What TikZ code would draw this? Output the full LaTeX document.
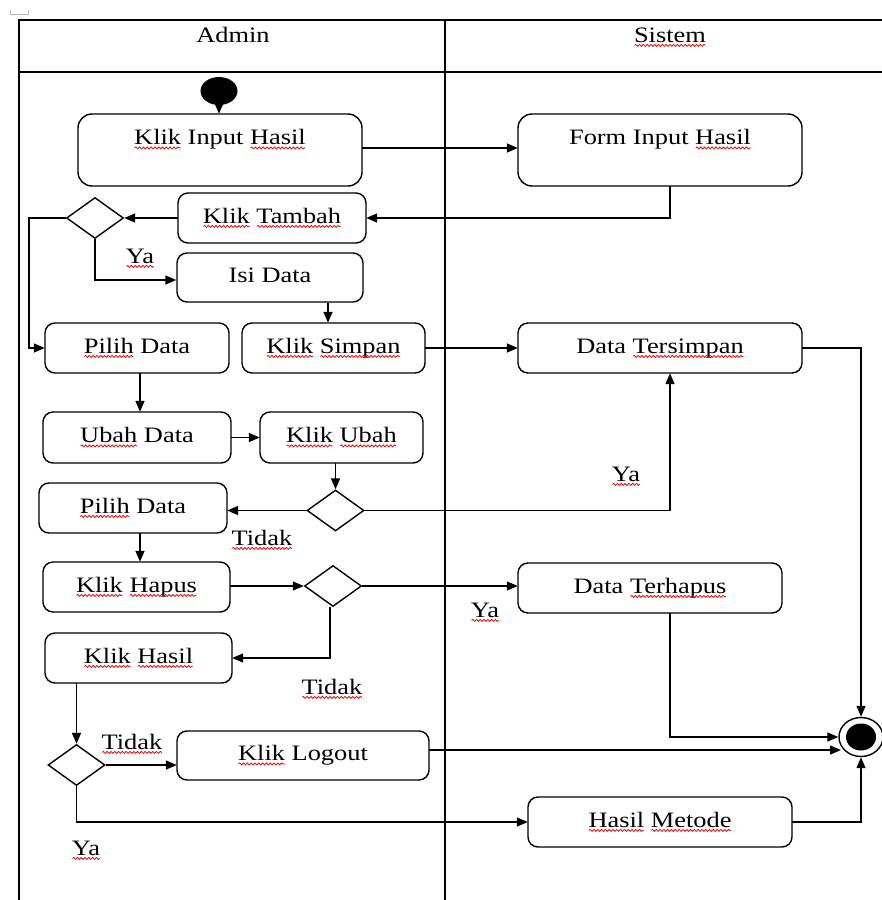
\documentclass[tikz,border=0pt]{standalone}
\usepackage{fontspec}
\setmainfont{Liberation Serif}[FakeStretch=1.2]
\usetikzlibrary{arrows.meta,shapes.geometric,calc,decorations.pathmorphing}

\definecolor{spell}{RGB}{225,20,20}
% red wavy underline under a word
\newsavebox\sqbox
\newcommand\sq[1]{\sbox\sqbox{#1}\usebox\sqbox\llap{\tikz[baseline=0pt,x=1pt,y=1pt,sharp corners]{%
  \useasboundingbox (0,0) rectangle (\wd\sqbox,0);
  \draw[spell,sharp corners,line width=0.85pt,decorate,decoration={snake,amplitude=1.0pt,segment length=3.8pt}]
    (0.5,-3.4) -- (\wd\sqbox-0.5,-3.4);}}}

\begin{document}
\begin{tikzpicture}[x=1pt,y=-1pt,
  line width=1.4pt,
  every node/.style={font=\fontsize{22pt}{26pt}\selectfont},
  act/.style={draw,rounded corners=10pt,text height=15pt,text depth=5pt,inner sep=0pt},
  bigact/.style={act,rounded corners=14pt,text depth=26pt},
  choice/.style={draw,diamond,inner sep=0pt,minimum width=57pt,minimum height=41pt},
  lbl/.style={inner sep=0pt,text height=15pt,text depth=5pt},
  arr/.style={-{Triangle[length=11pt,width=9pt]}},
]
\useasboundingbox (0,0) rectangle (882,900);
\clip (0,0) rectangle (882,900);

% small corner mark
\draw[gray!55,line width=0.8pt] (10,10) -- (10,14) -- (28,14) -- (28,10);

% swimlanes
\draw (19,900) -- (19,20) -- (882,20);
\draw (19,72) -- (882,72);
\draw (445,20) -- (445,900);
\node[lbl] (hadmin) at (233,37) {Admin};
\node[lbl] (hsistem) at (670,37) {\sq{Sistem}};

% start / end
\node[fill,ellipse,minimum width=37pt,minimum height=28pt,inner sep=0pt] (start) at (219,91) {};
\node[draw,ellipse,minimum width=44pt,minimum height=39pt,inner sep=0pt] (fin) at (861,737) {};
\node[fill,ellipse,minimum width=30pt,minimum height=27pt,inner sep=0pt] (fincore) at (fin.center) {};

% activities
\node[bigact,minimum width=284pt,minimum height=72pt] (kih) at (220,150) {\sq{Klik} Input \sq{Hasil}};
\node[bigact,minimum width=284pt,minimum height=72pt] (fih) at (660,150) {Form Input \sq{Hasil}};
\node[act,minimum width=188pt,minimum height=50pt] (ktb) at (272,218) {\sq{Klik} \sq{Tambah}};
\node[act,minimum width=186pt,minimum height=49pt] (isi) at (270,277.5) {Isi Data};
\node[act,minimum width=184pt,minimum height=50pt] (pd1) at (137,348) {\sq{Pilih} Data};
\node[act,minimum width=183pt,minimum height=50pt] (ksp) at (333.5,348) {\sq{Klik} \sq{Simpan}};
\node[act,minimum width=284pt,minimum height=50pt] (dts) at (660,348) {Data \sq{Tersimpan}};
\node[act,minimum width=188pt,minimum height=51pt] (ubd) at (137,437.5) {\sq{Ubah} Data};
\node[act,minimum width=163pt,minimum height=51pt] (kub) at (341.5,437.5) {\sq{Klik} \sq{Ubah}};
\node[act,minimum width=188pt,minimum height=50pt] (pd2) at (133,508) {\sq{Pilih} Data};
\node[act,minimum width=187pt,minimum height=50pt] (khp) at (136.5,587) {\sq{Klik} \sq{Hapus}};
\node[act,minimum width=264pt,minimum height=50pt] (dth) at (650,588) {Data \sq{Terhapus}};
\node[act,minimum width=187pt,minimum height=50pt] (khs) at (138.5,658) {\sq{Klik} \sq{Hasil}};
\node[act,minimum width=252pt,minimum height=49pt] (klo) at (303,755.5) {\sq{Klik} Logout};
\node[act,minimum width=264pt,minimum height=50pt] (hme) at (660,822) {\sq{Hasil} \sq{Metode}};

% decisions
\node[choice] (d1) at (95,218) {};
\node[choice] (d2) at (335.5,510.5) {};
\node[choice] (d3) at (333,586) {};
\node[choice] (d4) at (76.5,765) {};

% guard labels
\node[lbl] (ya1) at (140,258) {\sq{Ya}};
\node[lbl] (td2) at (262,540) {\sq{Tidak}};
\node[lbl] (ya2) at (626,476) {\sq{Ya}};
\node[lbl] (ya3) at (485,612) {\sq{Ya}};
\node[lbl] (td3) at (332,689) {\sq{Tidak}};
\node[lbl] (td4) at (132,744) {\sq{Tidak}};
\node[lbl] (ya4) at (86,850) {\sq{Ya}};

% flows
\draw[arr] (start.south) -- (start.south |- kih.north);
\draw[arr] ($(kih.east)+(0,-2)$) -- ($(fih.west)+(0,-2)$);
\draw[arr] ($(fih.south)+(10,0)$) |- (ktb.east);
\draw[arr] (ktb.west) -- (d1.east);
\draw[arr] (d1.west) -- ++(-37,0) |- (pd1.west);
\draw[arr] (d1.south) |- ($(isi.west)+(0,2.5)$);
\draw[arr] ($(isi.south)+(58,0)$) -- ($(ksp.north)+(-5.5,0)$);
\draw[arr] (ksp.east) -- (dts.west);
\draw[arr] (dts.east) -| (fin.north);
\draw[arr] ($(pd1.south)+(3,0)$) -- ($(ubd.north)+(3,0)$);
\draw[arr] (ubd.east) -- (kub.west);
\draw[arr] (d2.north |- kub.south) -- (d2.north);
\draw[arr] (d2.west) -- (pd2.east |- d2.west);
\draw[arr] (d2.east) -| ($(dts.south)+(10,0)$);
\draw[arr] ($(pd2.south)+(7,0)$) -- ($(khp.north)+(3.5,0)$);
\draw[arr] (d3.west -| khp.east) -- (d3.west);
\draw[arr] (d3.east) -- (dth.west |- d3.east);
\draw[arr] ($(d3.south)+(-3,0)$) |- (khs.east);
\draw[arr] (d4.north |- khs.south) -- (d4.north);
\draw[arr] (d4.east) -- (klo.west |- d4.east);
\coordinate (finW) at (841,750);
\draw[arr] ($(klo.east)+(0,-5.5)$) -- (finW);
\draw[arr] ($(dth.south)+(20,0)$) |- (fin.west);
\draw[arr] (d4.south) |- (hme.west);
\draw[arr] (hme.east) -| (fin.south);
\end{tikzpicture}
\end{document}
